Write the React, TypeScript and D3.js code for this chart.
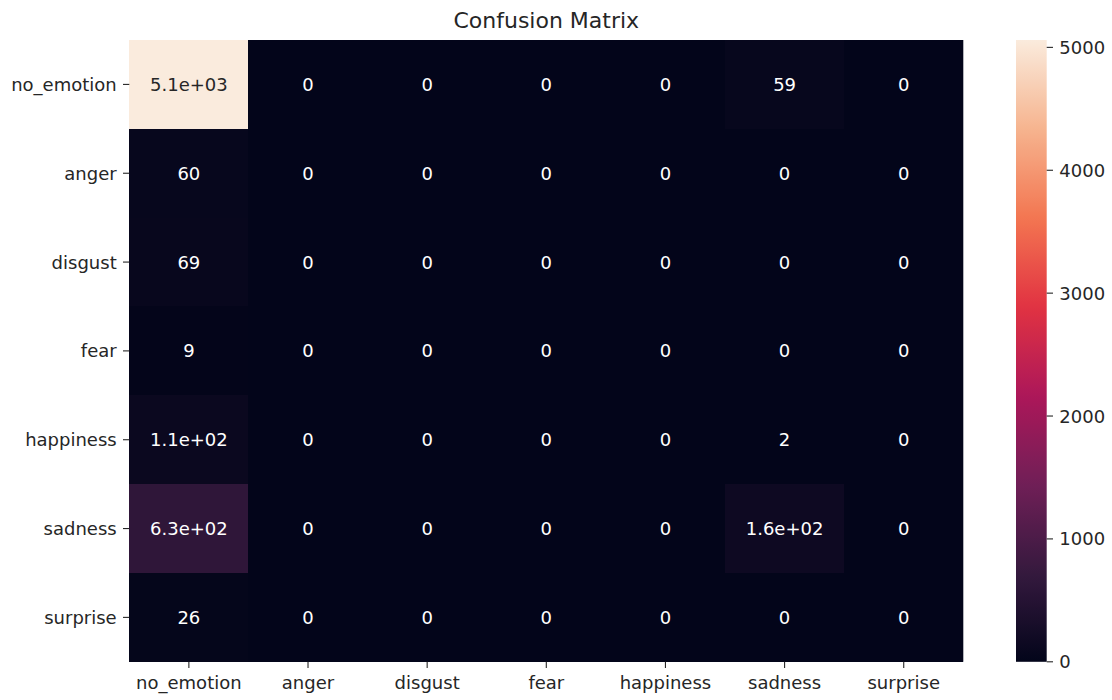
import React from "react";
import * as d3 from "d3";

// Confusion matrix counts (rows = true label, columns = predicted label)
const labels = ["no_emotion", "anger", "disgust", "fear", "happiness", "sadness", "surprise"];
const rowNoEmotion = [5060, 0, 0, 0, 0, 59, 0];
const rowAnger = [60, 0, 0, 0, 0, 0, 0];
const rowDisgust = [69, 0, 0, 0, 0, 0, 0];
const rowFear = [9, 0, 0, 0, 0, 0, 0];
const rowHappiness = [110, 0, 0, 0, 0, 2, 0];
const rowSadness = [630, 0, 0, 0, 0, 160, 0];
const rowSurprise = [26, 0, 0, 0, 0, 0, 0];
const matrix = [rowNoEmotion, rowAnger, rowDisgust, rowFear, rowHappiness, rowSadness, rowSurprise];
const colorbarTicks = [0, 1000, 2000, 3000, 4000, 5000];
const title = "Confusion Matrix";

// "rocket" sequential palette
const rocketStops = ["#03051a", "#35193e", "#701f57", "#ad1759", "#e13342", "#f37651", "#f6b48f", "#faebdd"];
const rocket = d3.piecewise(d3.interpolateRgb, rocketStops);

// Python-style "%.2g" formatting (e.g. 5.1e+03, 59)
function fmt2g(v: number): string {
  if (v === 0) return "0";
  const exp = Math.floor(Math.log10(Math.abs(Number(v.toPrecision(2)))));
  if (exp < -4 || exp >= 2) {
    const [m, e] = v.toExponential(1).split("e");
    const en = parseInt(e, 10);
    const sign = en < 0 ? "-" : "+";
    const ea = Math.abs(en).toString().padStart(2, "0");
    return `${m}e${sign}${ea}`;
  }
  return String(Number(v.toPrecision(2)));
}

function luminance(c: string): number {
  const rgb = d3.rgb(c);
  const f = (x: number) => {
    const s = x / 255;
    return s <= 0.03928 ? s / 12.92 : Math.pow((s + 0.055) / 1.055, 2.4);
  };
  return 0.2126 * f(rgb.r) + 0.7152 * f(rgb.g) + 0.0722 * f(rgb.b);
}

export default function App() {
  const W = 1112;
  const H = 700;
  const plot = { left: 129.3, top: 40, right: 963.3, bottom: 661.8 };
  const cb = { left: 1016, right: 1046.7, top: 40, bottom: 661.8 };
  const font = "'DejaVu Sans', sans-serif";
  const fs = 18;
  const tickLen = 6.3;
  const pad = 6.3;

  const vmax = d3.max(matrix.flat()) as number;
  const color = d3.scaleSequential(rocket).domain([0, vmax]);

  const x = d3.scaleBand<string>().domain(labels).range([plot.left, plot.right]);
  const y = d3.scaleBand<string>().domain(labels).range([plot.top, plot.bottom]);
  const cbY = d3.scaleLinear().domain([0, vmax]).range([cb.bottom, cb.top]);

  const gradStops = d3.range(0, 1.0001, 1 / 64);

  return (
    <svg
      width={W}
      height={H}
      style={{ position: "absolute", left: 0, top: 0, background: "#fff" }}
      fontFamily={font}
    >
      <defs>
        <linearGradient id="cbgrad" x1="0" y1="1" x2="0" y2="0">
          {gradStops.map((t, i) => (
            <stop key={i} offset={t} stopColor={rocket(t)} />
          ))}
        </linearGradient>
      </defs>

      {/* heatmap cells, over a base of the lowest colour to avoid seams */}
      <rect
        x={plot.left}
        y={plot.top}
        width={plot.right - plot.left}
        height={plot.bottom - plot.top}
        fill={color(0)}
      />
      {matrix.map((row, ri) =>
        row.map((v, ci) => (
          <rect
            key={`c-${ri}-${ci}`}
            x={x(labels[ci])}
            y={y(labels[ri])}
            width={x.bandwidth()}
            height={y.bandwidth()}
            fill={color(v)}
            shapeRendering="crispEdges"
          />
        ))
      )}

      {/* annotations */}
      {matrix.map((row, ri) =>
        row.map((v, ci) => {
          const c = color(v);
          const textColor = luminance(c) > 0.408 ? "#262626" : "#ffffff";
          return (
            <text
              key={`t-${ri}-${ci}`}
              x={(x(labels[ci]) as number) + x.bandwidth() / 2}
              y={(y(labels[ri]) as number) + y.bandwidth() / 2}
              dy="0.36em"
              textAnchor="middle"
              fontSize={fs}
              fill={textColor}
            >
              {fmt2g(v)}
            </text>
          );
        })
      )}

      {/* y axis */}
      {labels.map((l) => {
        const cy = (y(l) as number) + y.bandwidth() / 2;
        return (
          <g key={`y-${l}`}>
            <line x1={plot.left - tickLen} x2={plot.left} y1={cy} y2={cy} stroke="#262626" strokeWidth={1.1} />
            <text
              x={plot.left - tickLen - pad}
              y={cy}
              dy="0.36em"
              textAnchor="end"
              fontSize={fs}
              fill="#262626"
            >
              {l}
            </text>
          </g>
        );
      })}

      {/* x axis */}
      {labels.map((l) => {
        const cx = (x(l) as number) + x.bandwidth() / 2;
        return (
          <g key={`x-${l}`}>
            <line x1={cx} x2={cx} y1={plot.bottom} y2={plot.bottom + tickLen} stroke="#262626" strokeWidth={1.1} />
            <text x={cx} y={689} textAnchor="middle" fontSize={fs} fill="#262626">
              {l}
            </text>
          </g>
        );
      })}

      {/* title */}
      <text x={(plot.left + plot.right) / 2} y={28} textAnchor="middle" fontSize={22} fill="#262626">
        {title}
      </text>

      {/* colorbar */}
      <rect x={cb.left} y={cb.top} width={cb.right - cb.left} height={cb.bottom - cb.top} fill="url(#cbgrad)" />
      {colorbarTicks.map((t) => {
        const ty = cbY(t);
        return (
          <g key={`cb-${t}`}>
            <line x1={cb.right} x2={cb.right + tickLen} y1={ty} y2={ty} stroke="#262626" strokeWidth={1.1} />
            <text x={cb.right + tickLen + pad} y={ty} dy="0.36em" fontSize={fs} fill="#262626">
              {t}
            </text>
          </g>
        );
      })}
    </svg>
  );
}
